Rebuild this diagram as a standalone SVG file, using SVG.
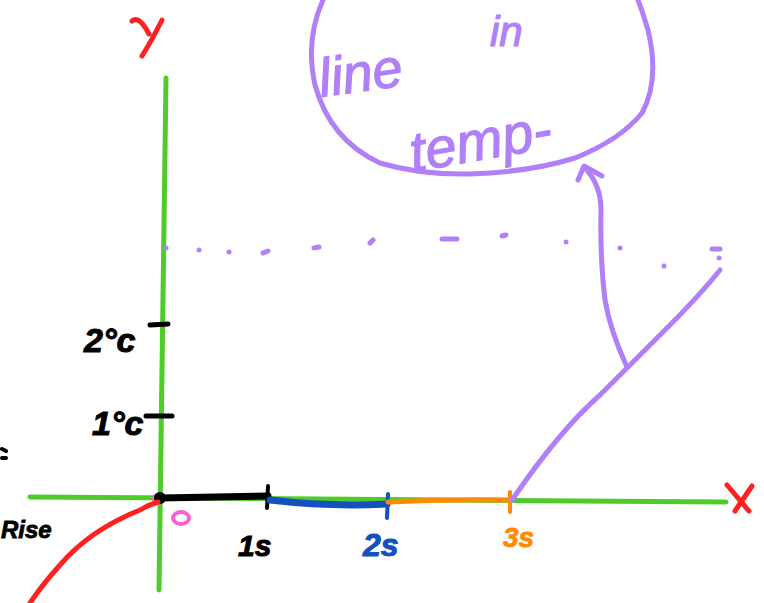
<svg xmlns="http://www.w3.org/2000/svg" width="764" height="603" viewBox="0 0 764 603">
<style>
.ax{stroke:#4fcc2a;stroke-width:5;stroke-linecap:round;fill:none}
.pu{stroke:#b180f8;stroke-width:5;stroke-linecap:round;stroke-linejoin:round;fill:none}
.hand{font-family:"Liberation Sans",Arial,sans-serif;font-weight:bold;font-style:italic}
.k{fill:#000}
.dot{fill:#b180f8}
.note{font-family:"Liberation Sans",Arial,sans-serif;font-style:italic;fill:#b180f8;stroke:#b180f8;stroke-width:1.2}
</style>
<rect width="764" height="603" fill="#fff"/>
<g id="axes">
<path class="ax" d="M166,78 L159,590"/>
<path class="ax" d="M30,497 L726,502"/>
<path d="M132,21 Q139,15 149,34 M162,20 Q152,40 142,56" stroke="#ff2020" stroke-width="5" stroke-linecap="round" fill="none"/>
<path d="M727,485 L749,511 M752,486 L735,511" stroke="#ff2020" stroke-width="5" stroke-linecap="round" fill="none"/>
</g>
<g id="y-ticks">
<path d="M150,325 L168,324 M146,416 L172,416" stroke="#000" stroke-width="5" stroke-linecap="round"/>
<text class="hand k" x="84" y="352" font-size="34" stroke="#000" stroke-width="1">2°c</text>
<text class="hand k" x="92" y="435" font-size="34" stroke="#000" stroke-width="1">1°c</text>
</g>
<g id="origin">
<circle cx="158" cy="499" r="6" fill="#ff5fd0"/>
<circle cx="160" cy="498" r="6" fill="#000"/>
<ellipse cx="181" cy="518" rx="8" ry="6" fill="none" stroke="#ff5fd0" stroke-width="4"/>
</g>
<g id="seg1">
<path d="M160,498 L268,496" stroke="#000" stroke-width="7" stroke-linecap="round"/>
<path d="M268,486 L267,508" stroke="#000" stroke-width="4" stroke-linecap="round"/>
<text class="hand k" x="238" y="556" font-size="30" stroke="#000" stroke-width="1">1s</text>
</g>
<g id="seg2">
<path d="M270,500 Q330,507 387,504" stroke="#1550c0" stroke-width="7" stroke-linecap="round" fill="none"/>
<path d="M388,494 L387,518" stroke="#1550c0" stroke-width="4" stroke-linecap="round"/>
<text class="hand" x="363" y="556" font-size="32" fill="#1550c0" stroke="#1550c0" stroke-width="1">2s</text>
</g>
<g id="seg3">
<path d="M388,502 Q450,499 512,500" stroke="#ff8a00" stroke-width="5" stroke-linecap="round" fill="none"/>
<path d="M510,492 L510,512" stroke="#ff8a00" stroke-width="4" stroke-linecap="round"/>
<text class="hand" x="503" y="547" font-size="28" fill="#ff8a00" stroke="#ff8a00" stroke-width="0.8">3s</text>
</g>
<g id="rise">
<path d="M158,502 Q148,505 140,510 Q90,530 60,565 Q42,585 30,603" stroke="#ff2020" stroke-width="5" stroke-linecap="round" fill="none"/>
<text class="hand k" x="1" y="538" font-size="24" stroke="#000" stroke-width="0.8">Rise</text>
<path d="M2,449 L6,451 M2,458 L6,458" stroke="#000" stroke-width="4" stroke-linecap="round"/>
</g>
<g id="dotted-line">
<circle class="dot" cx="166" cy="248" r="2.5"/><circle class="dot" cx="199" cy="250" r="2.5"/>
<circle class="dot" cx="229" cy="252" r="2.5"/>
<path class="pu" d="M263,253 L268,251 M314,248 L319,247 M370,243 L373,240 M442,239 L457,239 M502,236 L506,235 M712,249 L720,249" stroke-width="4"/>
<circle class="dot" cx="566" cy="242" r="2.5"/><circle class="dot" cx="620" cy="248" r="2.5"/>
<circle class="dot" cx="719" cy="258" r="2.5"/><circle class="dot" cx="664" cy="266" r="2.5"/>
</g>
<g id="connectors">
<path class="pu" d="M512,500 Q560,430 600,395 Q630,365 665,330 Q700,295 720,270"/>
<path class="pu" d="M627,367 Q610,330 605,300 Q600,260 601,210 Q601,185 585,168"/>
<path class="pu" d="M578,180 L584,166 L602,176"/>
</g>
<g id="note">
<path class="pu" d="M323,0 Q305,40 315,85 Q330,140 380,163 Q420,175 470,174 Q530,172 575,158 Q620,140 642,113 Q660,80 648,30 Q642,10 638,0"/>
<text class="note" x="318" y="90" font-size="54" transform="rotate(-8 370 70)">line</text>
<text class="note" x="490" y="46" font-size="42">in</text>
<text class="note" x="408" y="158" font-size="56" transform="rotate(-10 490 135)">temp-</text>
</g>
</svg>
